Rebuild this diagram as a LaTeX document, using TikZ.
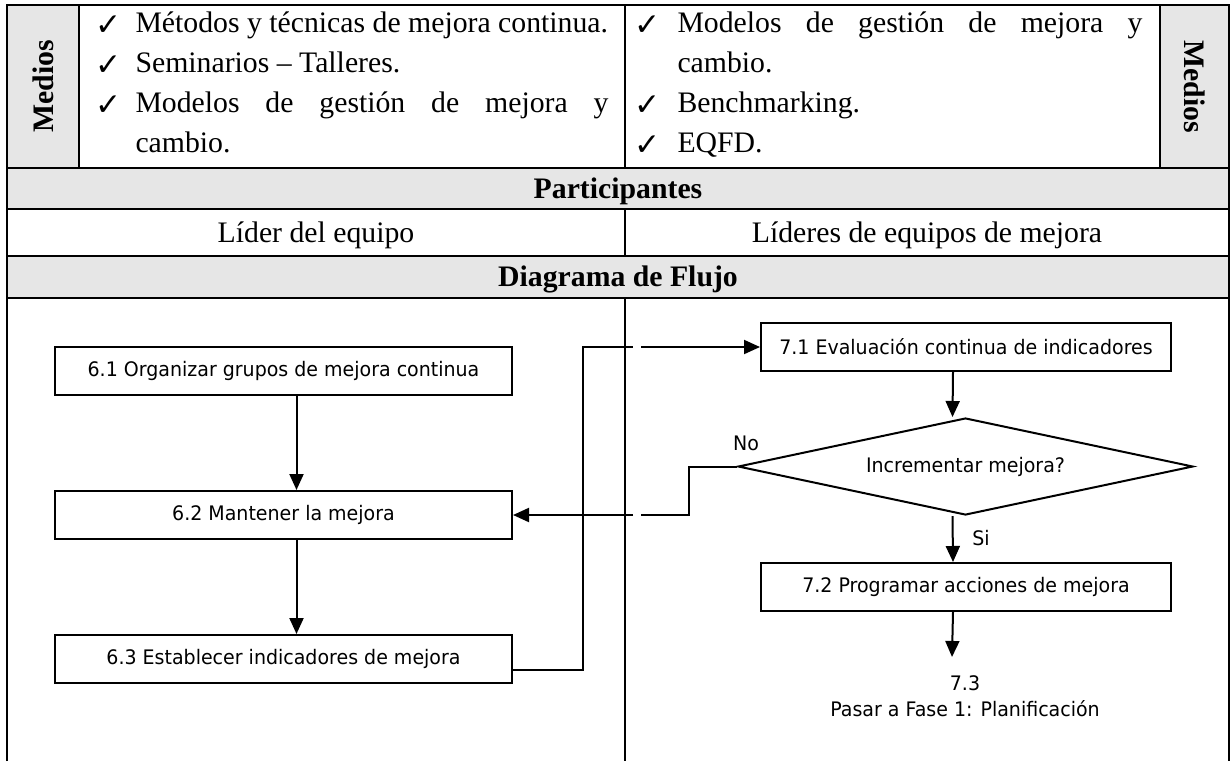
\documentclass[tikz,border=0pt]{standalone}
\usepackage{fontspec}
\setmainfont{Liberation Serif}
\newfontfamily\flowfont[FakeStretch=0.95]{DejaVu Sans}
\newfontfamily\checkfont{DejaVu Sans}
\usetikzlibrary{shapes.geometric,arrows.meta}
\definecolor{cellgray}{HTML}{E6E6E6}
\tikzset{
  tabline/.style={line width=0.9pt},
  celda/.style={font=\fontsize{11.9}{14}\selectfont, inner sep=0pt},
  titulo/.style={celda, font=\fontsize{11.9}{14}\selectfont\bfseries},
  paso/.style={draw, line width=0.8pt, font=\flowfont\fontsize{8}{9.6}\selectfont, inner sep=0pt},
  pasoizq/.style={paso, minimum width=182.8pt, minimum height=19.2pt},
  pasoder/.style={paso, minimum width=164pt, minimum height=19.2pt},
  etiq/.style={font=\flowfont\fontsize{8}{10.4}\selectfont, inner sep=0pt},
  linea/.style={line width=0.8pt},
  flecha/.style={linea, -{Triangle[length=6.4pt,width=5.6pt]}},
}
\begin{document}
\begin{tikzpicture}[x=0.4pt,y=-0.4pt]
  \useasboundingbox (0,0) rectangle (1232,761);
  \fill[white] (0,0) rectangle (1232,761);
  % shaded cells
  \fill[cellgray] (7,5) rectangle (79,168);
  \fill[cellgray] (1160,5) rectangle (1229,168);
  \fill[cellgray] (7,168) rectangle (1229,209);
  \fill[cellgray] (7,256) rectangle (1229,298);
  % table rules
  \draw[tabline] (7,761) -- (7,5) -- (1229,5) -- (1229,761);
  \foreach \yy in {168,209,256,298}
    \draw[tabline] (7,\yy) -- (1229,\yy);
  \draw[tabline] (79,5) -- (79,168);
  \draw[tabline] (1160,5) -- (1160,168);
  \draw[tabline] (625,5) -- (625,168);
  \draw[tabline] (625,209) -- (625,256);
  \draw[tabline] (625,298) -- (625,761);

  % Medios
  \node[titulo, rotate=90] (mediosL) at (43,86.5) {Medios};
  \node[titulo, rotate=-90] (mediosR) at (1194.5,86.5) {Medios};
  \foreach \yy in {32,72,112}
    \node[celda] at (109,\yy-6) {\checkfont\fontsize{12.5}{14}\selectfont ✓};
  \foreach \yy in {32,112,152}
    \node[celda] at (648,\yy-6) {\checkfont\fontsize{12.5}{14}\selectfont ✓};
  \node[celda, anchor=base west] (m1) at (135,32) {Métodos y técnicas de mejora continua.};
  \node[celda, anchor=base west] (m2) at (135,72) {Seminarios – Talleres.};
  \node[celda, anchor=base west] (m3) at (135,112) {\makebox[189.2pt][s]{Modelos de gestión de mejora y}};
  \node[celda, anchor=base west] (m4) at (135,152) {cambio.};
  \node[celda, anchor=base west] (n1) at (677,32) {\makebox[186pt][s]{Modelos de gestión de mejora y}};
  \node[celda, anchor=base west] (n2) at (677,72) {cambio.};
  \node[celda, anchor=base west] (n3) at (677,112) {Benchmarking.};
  \node[celda, anchor=base west] (n4) at (677,152) {EQFD.};

  % headers
  \node[titulo, anchor=base] (part) at (618,198) {Participantes};
  \node[celda, anchor=base] (lider) at (316,242) {Líder del equipo};
  \node[celda, anchor=base] (lideres) at (927,242) {Líderes de equipos de mejora};
  \node[titulo, anchor=base] (diag) at (618,286) {Diagrama de Flujo};

  % flow steps
  \node[pasoizq] (b61) at (283.5,371) {6.1 Organizar grupos de mejora continua};
  \node[pasoizq] (b62) at (283.5,515) {6.2 Mantener la mejora};
  \node[pasoizq] (b63) at (283.5,659) {6.3 Establecer indicadores de mejora};
  \node[pasoder] (b71) at (966,347) {7.1 Evaluación continua de indicadores};
  \node[paso, diamond, shape aspect=4.7, minimum width=182pt, minimum height=38.8pt] (dec) at (965.5,466.5) {Incrementar mejora?};
  \node[pasoder] (b72) at (966,587) {7.2 Programar acciones de mejora};
  \node[etiq, align=center] (fin) at (965,696) {7.3\\Pasar a Fase 1: Planificación};
  \node[etiq] (no) at (746,443) {No};
  \node[etiq] (si) at (981,538) {Si};

  % connectors
  \draw[flecha] ([xshift=5.2pt]b61.south) -- ([xshift=5.2pt]b62.north);
  \draw[flecha] ([xshift=5.2pt]b62.south) -- ([xshift=5.2pt]b63.north);
  \draw[flecha] ([xshift=-5.2pt]b71.south) -- ([xshift=-5.2pt]dec.north);
  \draw[flecha] ([xshift=-5.2pt]dec.south) -- ([xshift=-5.2pt]b72.north);
  \draw[flecha] ([xshift=-5.2pt]b72.south) -- ([xshift=-5.2pt,yshift=7.2pt]fin.north);
  \coordinate (saltoA) at (641,515);
  \coordinate (saltoB) at (633,515);
  \draw[linea] (dec.west) -- ++(-48,0) |- (saltoA);
  \draw[flecha] (saltoB) -- (b62.east);
  \coordinate (saltoC) at (633,347);
  \coordinate (saltoD) at (641,347);
  \draw[linea] ([yshift=-4.4pt]b63.east) -- ++(70,0) |- (saltoC);
  \draw[flecha] (saltoD) -- (b71.west);
\end{tikzpicture}
\end{document}
